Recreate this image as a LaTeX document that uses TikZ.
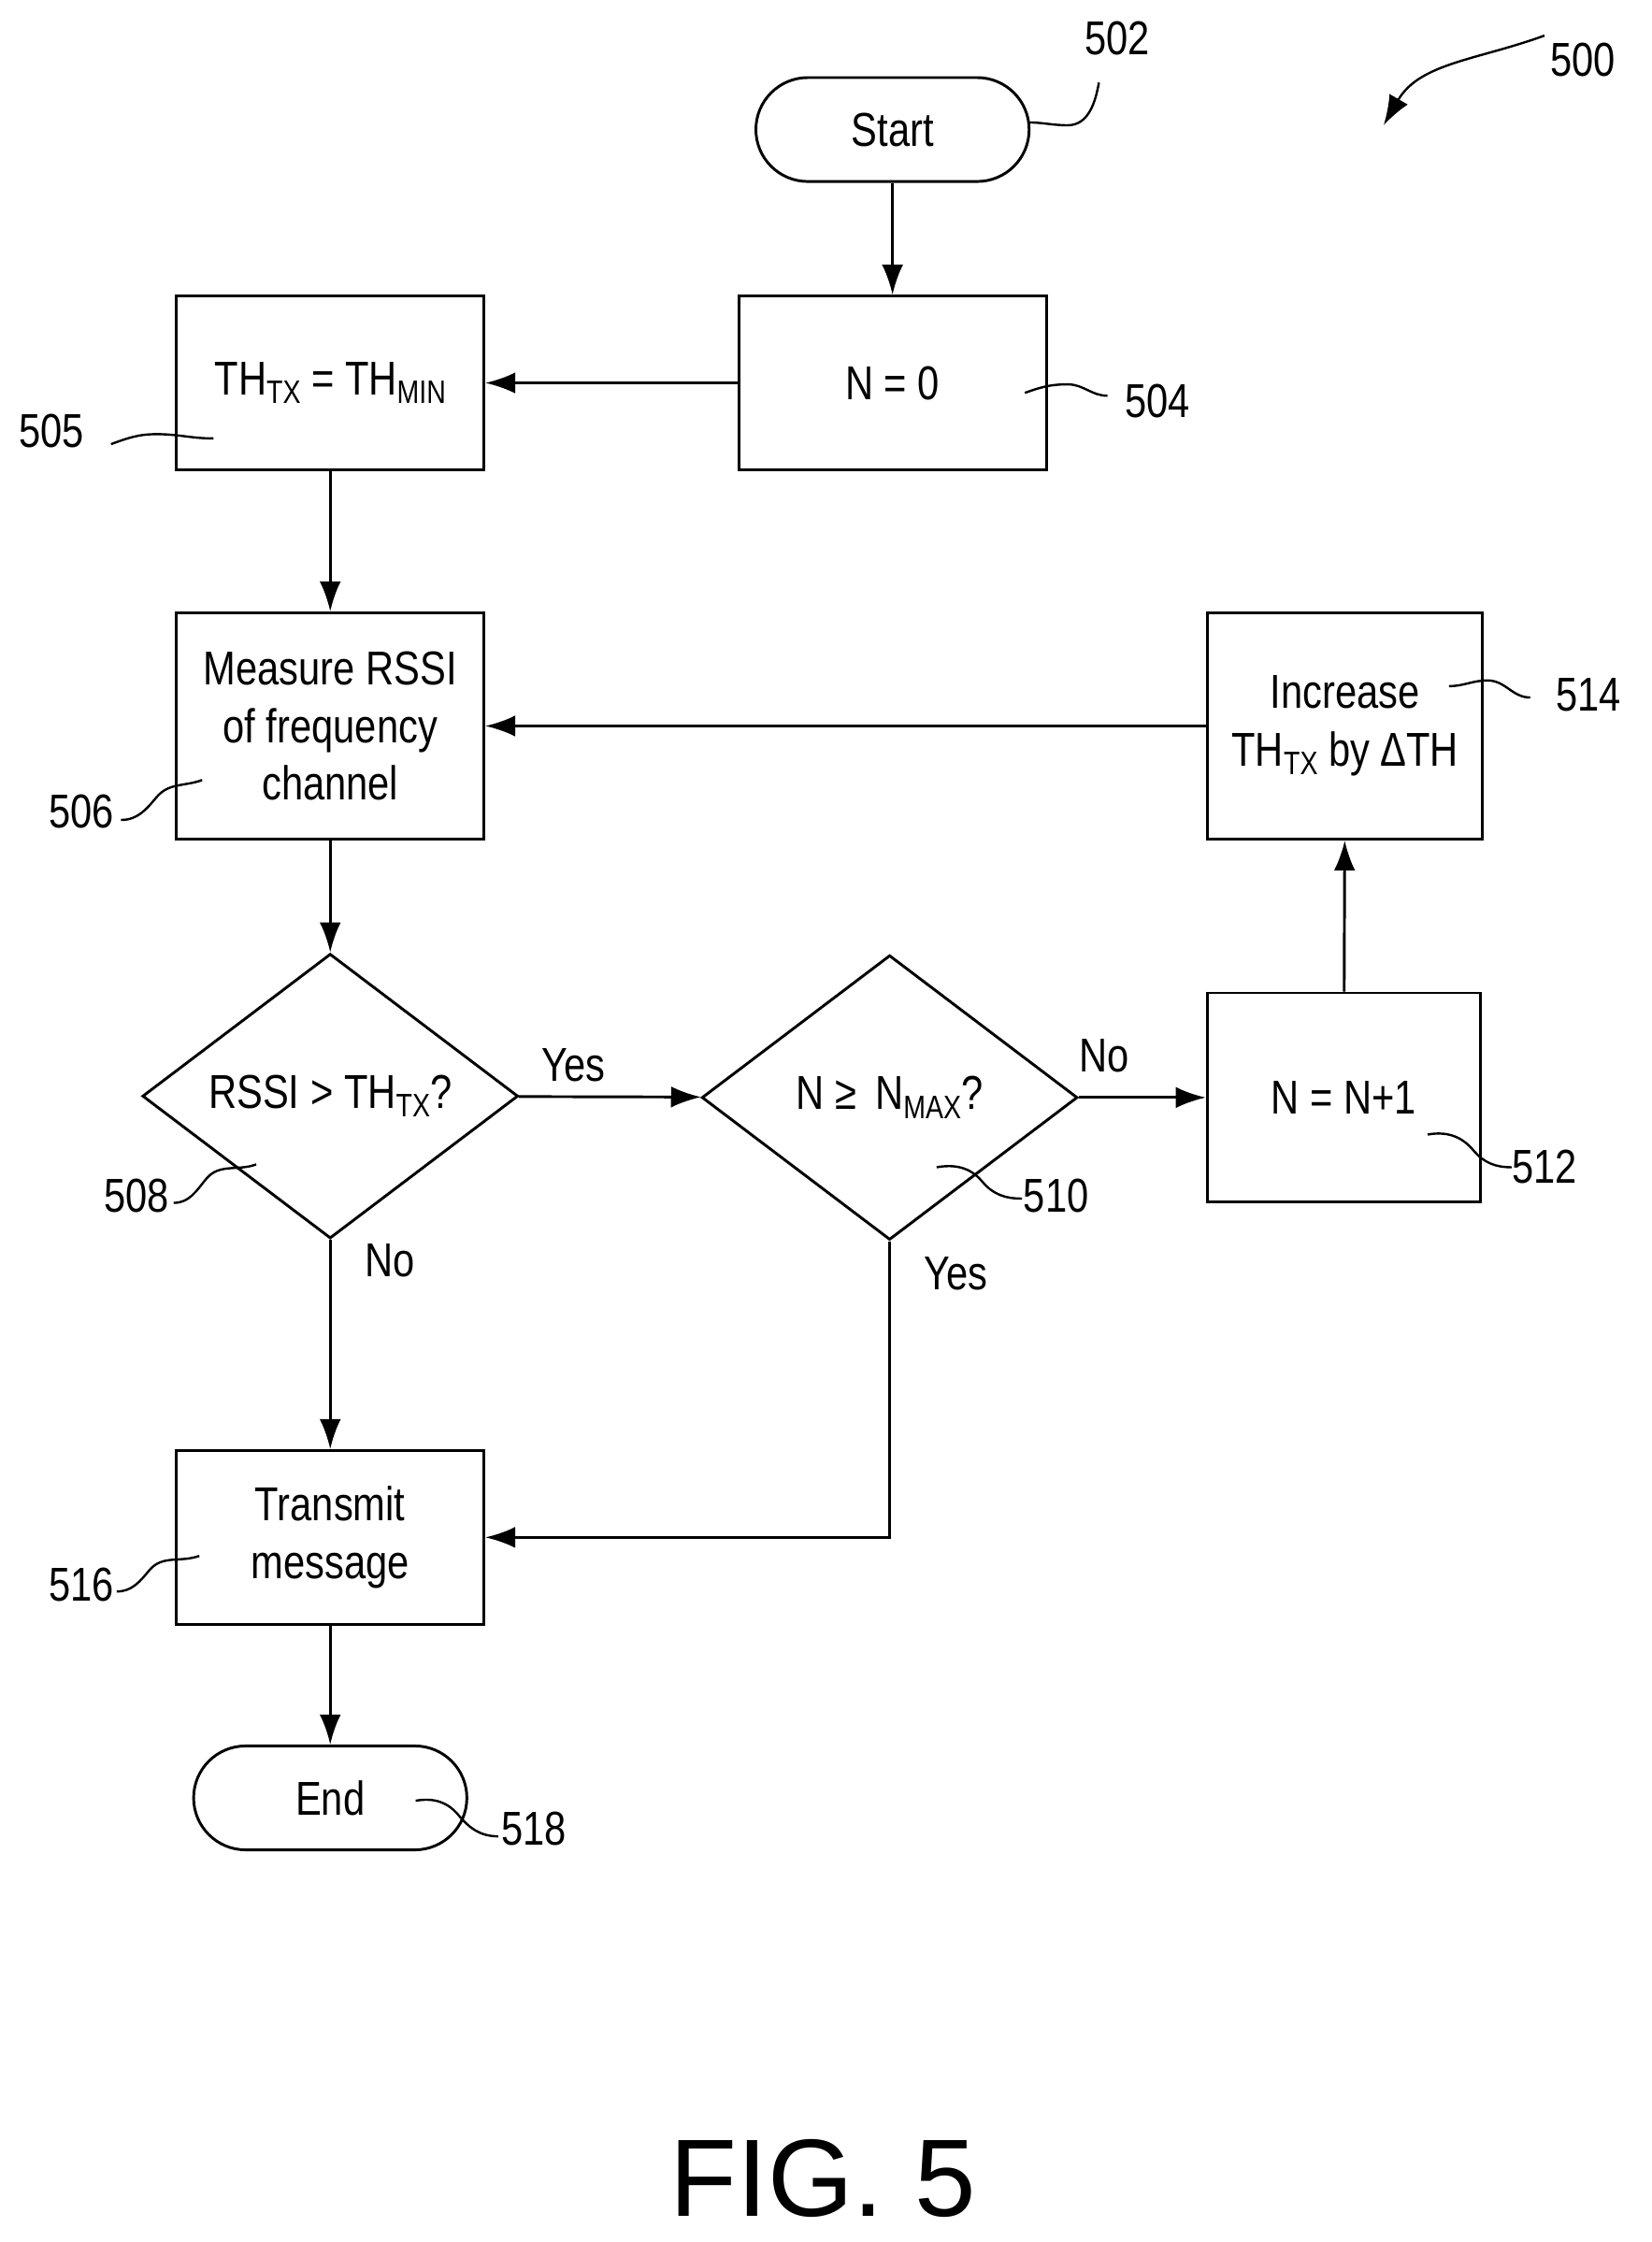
\documentclass[tikz,border=0pt]{standalone}
\usepackage{fontspec}
\setmainfont{Liberation Sans}[FakeStretch=0.82]
\newfontfamily\figfont{Liberation Sans}
\usetikzlibrary{shapes.geometric, positioning, arrows.meta, calc}
\newcommand{\lowsub}[1]{\raisebox{-0.35ex}{\fontsize{13pt}{13pt}\selectfont #1}}
\tikzset{
	>={Latex[length=12pt, width=8.5pt]},
	every node/.style={font=\fontsize{19pt}{23pt}\selectfont},
	box/.style={draw, line width=1.1pt, align=center, inner sep=0pt},
	term/.style={draw, line width=1.1pt, rounded corners=0.73cm, minimum width=3.84cm, minimum height=1.46cm},
	dia/.style={draw, diamond, line width=1.1pt, inner sep=0pt, minimum width=5.28cm, minimum height=4cm},
	flow/.style={->, line width=1.1pt},
	lead/.style={line width=0.9pt},
	ref/.style={font=\fontsize{19pt}{23pt}\selectfont},
}
\begin{document}
\begin{tikzpicture}[x=0.02cm, y=-0.02cm]
	\useasboundingbox (0,0) rectangle (1160,1575);
	% blocks
	\node[term] (START) at (627,91) {Start};
	\node[box, minimum width=4.32cm, minimum height=2.44cm] (N0) at (627,269) {N = 0};
	\node[box, minimum width=4.32cm, minimum height=2.44cm] (THMIN) at (232,269) {TH\lowsub{TX} = TH\lowsub{MIN}};
	\node[box, minimum width=4.32cm, minimum height=3.18cm] (MEAS) at (232,510) {Measure RSSI\\of frequency\\channel};
	\node[box, minimum width=3.86cm, minimum height=3.18cm] (INC) at (945,510) {Increase\\TH\lowsub{TX} by ΔTH};
	\node[dia] (RSSI) at (232,770) {};
	\node at (RSSI) {RSSI > TH\lowsub{TX}?};
	\node[dia] (NMAX) at (625,771) {};
	\node at (NMAX) {N ≥\, N\lowsub{MAX}?};
	\node[box, minimum width=3.84cm, minimum height=2.94cm] (INCN) at (944,771) {N = N+1};
	\node[box, minimum width=4.32cm, minimum height=2.44cm] (TX) at (232,1080) {Transmit\\message};
	\node[term] (END) at (232,1263) {End};
	\coordinate (CORNER) at (NMAX.south |- TX.east);

	% connectors
	\draw[flow] (START) -- (N0);
	\draw[flow] (N0) -- (THMIN);
	\draw[flow] (THMIN) -- (MEAS);
	\draw[flow] (MEAS) -- (RSSI);
	\draw[flow] (RSSI) -- node[pos=0.3, above=2pt]{Yes} (NMAX);
	\draw[flow] (NMAX) -- node[pos=0.2, above=6pt]{No} (INCN);
	\draw[flow] (INCN) -- (INC);
	\draw[flow] (INC) -- (MEAS);
	\draw[flow] (RSSI) -- node[pos=0.1, right=10pt]{No} (TX);
	\draw[flow] (NMAX.south) -- node[pos=0.11, right=10pt]{Yes} (CORNER) -- (TX.east);
	\draw[flow] (TX) -- (END);

	% reference numerals
	\node[ref] (L500) at (1112,42) {500};
	\node[ref] (L502) at (785,27) {502};
	\node[ref] (L504) at (813,282) {504};
	\node[ref] (L505) at (36,303) {505};
	\node[ref] (L506) at (57,570) {506};
	\node[ref] (L508) at (96,840) {508};
	\node[ref] (L510) at (742,840) {510};
	\node[ref] (L512) at (1085,820) {512};
	\node[ref] (L514) at (1116,488) {514};
	\node[ref] (L516) at (57,1113) {516};
	\node[ref] (L518) at (375,1285) {518};
	\node[font=\figfont\fontsize{44pt}{50pt}\selectfont] (FIG) at (578,1530) {FIG. 5};

	\draw[flow, lead] (1085,25) to[out=200, in=60] (972,88);
	\draw[lead] (772,58) to[out=260, in=0] (750,88) to[out=180, in=0] (722,86);
	\draw[lead] (720,276) to[out=20, in=180] (750,270) to[out=0, in=180] (778,278);
	\draw[lead] (78,312) to[out=20, in=180] (110,305) to[out=0, in=180] (150,308);
	\draw[lead] (85,576) to[out=0, in=230] (110,560) to[out=50, in=200] (142,548);
	\draw[lead] (122,845) to[out=0, in=230] (145,828) to[out=50, in=200] (180,818);
	\draw[lead] (658,820) to[out=10, in=130] (690,830) to[out=-50, in=180] (718,842);
	\draw[lead] (1003,797) to[out=10, in=130] (1035,808) to[out=-50, in=180] (1062,820);
	\draw[lead] (1018,482) to[out=0, in=180] (1045,478) to[out=0, in=180] (1075,490);
	\draw[lead] (82,1118) to[out=0, in=230] (105,1103) to[out=50, in=200] (140,1093);
	\draw[lead] (292,1265) to[out=10, in=130] (322,1275) to[out=-50, in=180] (350,1290);
\end{tikzpicture}
\end{document}
